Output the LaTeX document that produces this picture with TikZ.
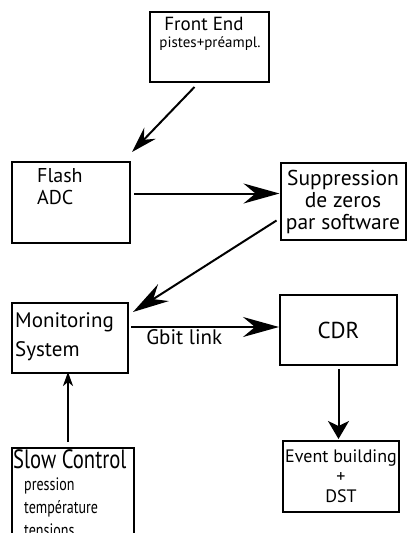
\documentclass[tikz,border=0pt]{standalone}
\usepackage{fontspec}
\setmainfont{PT Sans}
\newfontfamily\narrowfont[FakeStretch=0.78]{PT Sans}
\usetikzlibrary{arrows.meta,positioning,calc}

\begin{document}
\begin{tikzpicture}[x=1pt,y=-1pt,
  box/.style={draw,line width=2pt,inner sep=0pt,align=center},
  txt/.style={inner sep=0pt,align=left},
  flow/.style={line width=2pt,-{Stealth[length=36pt,width=20pt,inset=12pt]}},
  flowsm/.style={line width=2pt,-{Stealth[length=26pt,width=16pt,inset=9pt]}},
  down/.style={line width=2pt,-{Stealth[length=18pt,width=21pt,inset=5pt]}},
  up/.style={line width=2pt,-{Stealth[length=14pt,width=10pt,inset=4pt]}}
]
\clip (0,0) rectangle (407,533);
% boxes
\node[box,minimum width=119pt,minimum height=70pt] (fe)    at (209.5,47)  {};
\node[box,minimum width=118pt,minimum height=81pt] (flash) at (71,202.5)  {};
\node[box,minimum width=125pt,minimum height=77pt,font=\fontsize{21.5}{22}\selectfont] (supp) at (343,201.5)
   {Suppression\\de zeros\\par software};
\node[box,minimum width=116pt,minimum height=70pt] (mon)   at (70,338)    {};
\node[box,minimum width=117pt,minimum height=70pt,font=\fontsize{23}{24}\selectfont] (cdr) at (338.5,330) {CDR};
\node[box,minimum width=116pt,minimum height=71pt,font=\fontsize{18}{20}\selectfont] (evt) at (341,476.5)
   {Event building\\+\\DST};
\node[box,minimum width=122pt,minimum height=112pt] (slow) at (73,504)    {};
% texts inside the boxes
\node[txt,anchor=base,font=\fontsize{19}{19}\selectfont] (fetitle) at (204,30) {Front End};
\node[txt,anchor=base,font=\fontsize{15}{17}\selectfont] (fesub) at (210,47) {pistes+préampl.};
\node[txt,anchor=north west,font=\fontsize{20}{22}\selectfont] (flashtxt) at (37,168.5) {Flash\\ADC};
\node[txt,anchor=north west,font=\fontsize{21}{29}\selectfont] (montxt) at (15,312) {Monitoring\\System};
\node[txt,anchor=base west,font=\narrowfont\fontsize{26.5}{26}\selectfont] (slowtxt) at (13,468) {Slow Control};
\node[txt,anchor=base west,font=\narrowfont\fontsize{18}{23}\selectfont] (slowlist) at (24,536)
   {pression\\température\\tensions};
% connections
\draw[flowsm] ([shift={(-15pt,-4pt)}]fe.south) -- ([shift={(1pt,9pt)}]flash.north east);
\draw[flow] ([shift={(3pt,9pt)}]flash.east) -- ([yshift=9pt]flash.east -| supp.west);
\draw[flow] ([shift={(-3pt,-19pt)}]supp.west) -- ([shift={(4pt,-10pt)}]mon.north east);
\draw[flow] ([shift={(2pt,11pt)}]mon.east) -- ([yshift=11pt]mon.east -| cdr.west)
   node[pos=0.36,below=2pt,inner sep=0pt,font=\fontsize{21}{22}\selectfont] (gbit) {Gbit link};
\draw[down] ([yshift=-3pt]cdr.south) -- ([yshift=1pt]cdr.south |- evt.north);
\draw[up] ([shift={(-5pt,5pt)}]slow.north) -- ([shift={(-5pt,2pt)}]slow.north |- mon.south);
\end{tikzpicture}
\end{document}
